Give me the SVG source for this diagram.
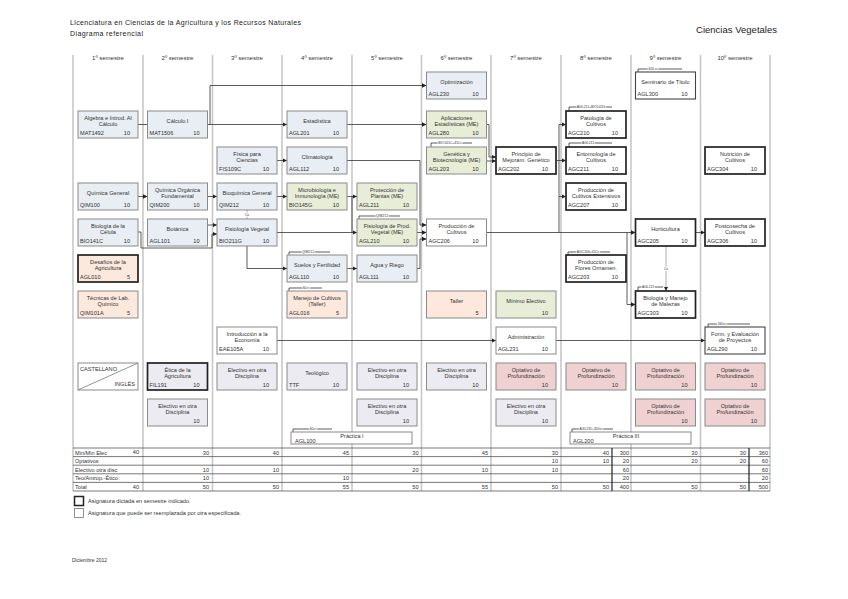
<svg xmlns="http://www.w3.org/2000/svg" width="848" height="599" viewBox="0 0 848 599">
<defs>
<marker id="a" viewBox="0 0 6 6" refX="6" refY="3" markerWidth="4.5" markerHeight="4.5" markerUnits="userSpaceOnUse" orient="auto"><path d="M0,0L6,3L0,6z" fill="#222"/></marker>
<style>
text{font-family:"Liberation Sans",Arial,sans-serif;fill:#333}
.col{stroke:#c8c8c8;stroke-width:1.6;fill:none}
.hd{font-size:6px;text-anchor:middle}
.node rect{fill:#e9edf4;stroke:#8a8a8a;stroke-width:1}
.node.g rect{fill:#e8edd8}
.node.p rect{fill:#fce8dc}
.node.l rect{fill:#ecebf1}
.node.o rect{fill:#f0d1d1}
.node.w rect{fill:#fff}
.node.k rect{stroke:#222;stroke-width:1.7}
.node.m rect{stroke:#444;stroke-width:1.1}
.t{font-size:5.6px;text-anchor:middle}
.c{font-size:5.6px}
.r{font-size:5.6px;text-anchor:end}
.cn path{fill:none;stroke:#333;stroke-width:0.8}
.cn path.x{marker-end:url(#a)}
.cn path.gr{stroke:#999}
.pq{font-size:3.4px;text-anchor:middle;paint-order:stroke;stroke:#fff;stroke-width:1.6px}
.tb line{stroke:#555;stroke-width:0.8}
.tv{font-size:5.6px;text-anchor:end}
.tl{font-size:5.6px}
.ti{font-size:7px;fill:#222}
</style>
</defs>
<rect width="848" height="599" fill="#fff"/>
<text class="ti" x="70" y="25" textLength="231">Licenciatura en Ciencias de la Agricultura y los Recursos Naturales</text>
<text class="ti" x="70" y="36" textLength="73">Diagrama referencial</text>
<text x="696" y="33" style="font-size:9.5px;fill:#222" textLength="81">Ciencias Vegetales</text>

<g id="columns">
<path class="col" d="M73,55V491M143,55V491M212.5,55V491M282,55V491M352,55V491M421.5,55V491M491,55V491M561,55V491M631,55V491M700.5,55V491M770,55V491"/>
<text class="hd" x="108" y="60">1º semestre</text>
<text class="hd" x="177.5" y="60">2º semestre</text>
<text class="hd" x="247" y="60">3º semestre</text>
<text class="hd" x="317" y="60">4º semestre</text>
<text class="hd" x="387" y="60">5º semestre</text>
<text class="hd" x="456.5" y="60">6º semestre</text>
<text class="hd" x="526" y="60">7º semestre</text>
<text class="hd" x="596" y="60">8º semestre</text>
<text class="hd" x="665.5" y="60">9º semestre</text>
<text class="hd" x="735" y="60">10º semestre</text>
</g>

<g class="cn" id="connectors">
<path d="M138,124.5H147.5"/>
<path class="x" d="M207.5,124.5H287"/>
<path class="x" d="M210,124.5V85.5H426.5"/>
<path class="x" d="M277,160.5H287"/>
<path class="x" d="M347,124.5H426.5"/>
<path class="x" d="M486.5,124.5H489V157H496"/>
<path class="x" d="M486.5,161H496"/>
<path class="x" d="M347,160.5H420V225H426.5"/>
<path class="x" d="M138,196.5H147.5"/>
<path class="x" d="M207.5,196.5H217"/>
<path class="x" d="M277,196.5H287"/>
<path class="gr" d="M247,210V219"/>
<path class="x" d="M207.5,225H217"/>
<path class="x" d="M138,232H141V248H212V234H217"/>
<path class="x" d="M247,246V268.5H287"/>
<path class="x" d="M277,232.5H357"/>
<path class="x" d="M347,196.5H357"/>
<path d="M352,232.5V196.5"/>
<path class="x" d="M417,232.5H426.5"/>
<path class="x" d="M347,268.5H357"/>
<path class="x" d="M417,268.5H420V239H426.5"/>
<path class="x" d="M486.5,232.5H635.5"/>
<path class="x" d="M559,232.5V124.5H566"/>
<path class="x" d="M556,160.5H566"/>
<path class="x" d="M559,196.5H566"/>
<path class="x" d="M627,232.5V304.5H635.5"/>
<path class="x" d="M696,232.5H705"/>
<path class="x gr" d="M666,246V291"/>
<path class="x" d="M277,340.5H496"/>
<path class="x" d="M556,340.5H705"/>
<text class="pq" x="247" y="216">Cs</text>
<text class="pq" x="666" y="270">Cs</text>
<path class="x" d="M682,69H638V77"/><text class="pq" x="653" y="70">400 cr</text>
<path class="x" d="M612,107H569V116"/><text class="pq" x="591" y="108">AGL211+BIO145G</text>
<path class="x" d="M612,143H569V152"/><text class="pq" x="588" y="144">AGL211</text>
<path class="x" d="M472,143H431V152"/><text class="pq" x="450" y="144">BIO141C+45Cr</text>
<path class="x" d="M400,216H359V224"/><text class="pq" x="382" y="217">QIM212</text>
<path class="x" d="M330,252H289V260"/><text class="pq" x="308" y="253">QIM212</text>
<path class="x" d="M322,288H289V296"/><text class="pq" x="306" y="289">60cr</text>
<path class="x" d="M610,252H568V260"/><text class="pq" x="588" y="253">AGC206+45Cr</text>
<path class="x" d="M663,287H638V296"/><text class="pq" x="648" y="288">AGL211</text>
<path class="x" d="M750,324H708V332"/><text class="pq" x="722" y="325">360cr</text>
<path class="x" d="M332,429H293V437"/><text class="pq" x="313" y="430">60cr</text>
<path class="x" d="M613,429H572V437"/><text class="pq" x="591" y="430">AGL231+350cr</text>
</g>

<!-- column 1 -->
<g id="n-mat1492" class="node"><rect x="78" y="111" width="60" height="27"/><text class="t" x="108" y="120">Algebra e Introd. Al</text><text class="t" x="108" y="126">Cálculo</text><text class="c" x="80" y="135">MAT1492</text><text class="r" x="130" y="135">10</text></g>
<g id="n-qim100" class="node"><rect x="78" y="183" width="60" height="27"/><text class="t" x="108" y="194.5">Química General</text><text class="c" x="80" y="207">QIM100</text><text class="r" x="130" y="207">10</text></g>
<g id="n-bio141c" class="node"><rect x="78" y="219" width="60" height="27"/><text class="t" x="108" y="228">Biología de la</text><text class="t" x="108" y="234">Célula</text><text class="c" x="80" y="243">BIO141C</text><text class="r" x="130" y="243">10</text></g>
<g id="n-agl010" class="node p k"><rect x="78" y="255" width="60" height="27"/><text class="t" x="108" y="264">Desafíos de la</text><text class="t" x="108" y="270">Agricultura</text><text class="c" x="80" y="279">AGL010</text><text class="r" x="130" y="279">5</text></g>
<g id="n-qim101a" class="node p"><rect x="78" y="291" width="60" height="27"/><text class="t" x="108" y="300">Técnicas de Lab.</text><text class="t" x="108" y="306">Químico</text><text class="c" x="80" y="315">QIM101A</text><text class="r" x="130" y="315">5</text></g>
<g id="n-idioma" class="node w"><rect x="78" y="363" width="60" height="27"/><path d="M78,390L138,363" stroke="#777" stroke-width="0.8"/><text class="c" x="80" y="371">CASTELLANO</text><text class="r" x="135" y="386">INGLÉS</text></g>

<!-- column 2 -->
<g id="n-mat1506" class="node"><rect x="147.5" y="111" width="60" height="27"/><text class="t" x="177.5" y="122.5">Cálculo I</text><text class="c" x="149.5" y="135">MAT1506</text><text class="r" x="199.5" y="135">10</text></g>
<g id="n-qim200" class="node"><rect x="147.5" y="183" width="60" height="27"/><text class="t" x="177.5" y="192">Química Orgánica</text><text class="t" x="177.5" y="198">Fundamental</text><text class="c" x="149.5" y="207">QIM200</text><text class="r" x="199.5" y="207">10</text></g>
<g id="n-agl101" class="node"><rect x="147.5" y="219" width="60" height="27"/><text class="t" x="177.5" y="230.5">Botánica</text><text class="c" x="149.5" y="243">AGL101</text><text class="r" x="199.5" y="243">10</text></g>
<g id="n-fil191" class="node l k"><rect x="147.5" y="363" width="60" height="27"/><text class="t" x="177.5" y="372">Ética de la</text><text class="t" x="177.5" y="378">Agricultura</text><text class="c" x="149.5" y="387">FIL191</text><text class="r" x="199.5" y="387">10</text></g>
<g id="n-elec2" class="node l"><rect x="147.5" y="399" width="60" height="27"/><text class="t" x="177.5" y="408">Electivo en otra</text><text class="t" x="177.5" y="414">Disciplina</text><text class="r" x="199.5" y="423">10</text></g>

<!-- column 3 -->
<g id="n-fis109c" class="node"><rect x="217" y="147" width="60" height="27"/><text class="t" x="247" y="156">Física para</text><text class="t" x="247" y="162">Ciencias</text><text class="c" x="219" y="171">FIS109C</text><text class="r" x="269" y="171">10</text></g>
<g id="n-qim212" class="node"><rect x="217" y="183" width="60" height="27"/><text class="t" x="247" y="194.5">Bioquímica General</text><text class="c" x="219" y="207">QIM212</text><text class="r" x="269" y="207">10</text></g>
<g id="n-bio211g" class="node"><rect x="217" y="219" width="60" height="27"/><text class="t" x="247" y="230.5">Fisiología Vegetal</text><text class="c" x="219" y="243">BIO211G</text><text class="r" x="269" y="243">10</text></g>
<g id="n-eae105a" class="node w"><rect x="217" y="327" width="60" height="27"/><text class="t" x="247" y="336">Introducción a la</text><text class="t" x="247" y="342">Economía</text><text class="c" x="219" y="351">EAE105A</text><text class="r" x="269" y="351">10</text></g>
<g id="n-elec3" class="node l"><rect x="217" y="363" width="60" height="27"/><text class="t" x="247" y="372">Electivo en otra</text><text class="t" x="247" y="378">Disciplina</text><text class="r" x="269" y="387">10</text></g>

<!-- column 4 -->
<g id="n-agl201" class="node"><rect x="287" y="111" width="60" height="27"/><text class="t" x="317" y="122.5">Estadística</text><text class="c" x="289" y="135">AGL201</text><text class="r" x="339" y="135">10</text></g>
<g id="n-agl112" class="node"><rect x="287" y="147" width="60" height="27"/><text class="t" x="317" y="158.5">Climatología</text><text class="c" x="289" y="171">AGL112</text><text class="r" x="339" y="171">10</text></g>
<g id="n-bio145g" class="node g"><rect x="287" y="183" width="60" height="27"/><text class="t" x="317" y="192">Microbiología e</text><text class="t" x="317" y="198">Inmunología (ME)</text><text class="c" x="289" y="207">BIO145G</text><text class="r" x="339" y="207">10</text></g>
<g id="n-agl110" class="node"><rect x="287" y="255" width="60" height="27"/><text class="t" x="317" y="266.5">Suelos y Fertilidad</text><text class="c" x="289" y="279">AGL110</text><text class="r" x="339" y="279">10</text></g>
<g id="n-agl016" class="node p"><rect x="287" y="291" width="60" height="27"/><text class="t" x="317" y="300">Manejo de Cultivos</text><text class="t" x="317" y="306">(Taller)</text><text class="c" x="289" y="315">AGL016</text><text class="r" x="339" y="315">5</text></g>
<g id="n-ttf" class="node l"><rect x="287" y="363" width="60" height="27"/><text class="t" x="317" y="374.5">Teológico</text><text class="c" x="289" y="387">TTF</text><text class="r" x="339" y="387">10</text></g>
<g id="n-agl100" class="node w"><rect x="291" y="432" width="121" height="12"/><text class="t" x="352" y="438">Práctica I</text><text class="c" x="295" y="442.5">AGL100</text></g>

<!-- column 5 -->
<g id="n-agl211" class="node g"><rect x="357" y="183" width="60" height="27"/><text class="t" x="387" y="192">Protección de</text><text class="t" x="387" y="198">Plantas (ME)</text><text class="c" x="359" y="207">AGL211</text><text class="r" x="409" y="207">10</text></g>
<g id="n-agl210" class="node g"><rect x="357" y="219" width="60" height="27"/><text class="t" x="387" y="228">Fisiología de Prod.</text><text class="t" x="387" y="234">Vegetal (ME)</text><text class="c" x="359" y="243">AGL210</text><text class="r" x="409" y="243">10</text></g>
<g id="n-agl111" class="node"><rect x="357" y="255" width="60" height="27"/><text class="t" x="387" y="266.5">Agua y Riego</text><text class="c" x="359" y="279">AGL111</text><text class="r" x="409" y="279">10</text></g>
<g id="n-elec5a" class="node l"><rect x="357" y="363" width="60" height="27"/><text class="t" x="387" y="372">Electivo en otra</text><text class="t" x="387" y="378">Disciplina</text><text class="r" x="409" y="387">10</text></g>
<g id="n-elec5b" class="node l"><rect x="357" y="399" width="60" height="27"/><text class="t" x="387" y="408">Electivo en otra</text><text class="t" x="387" y="414">Disciplina</text><text class="r" x="409" y="423">10</text></g>

<!-- column 6 -->
<g id="n-agl230" class="node"><rect x="426.5" y="72" width="60" height="27"/><text class="t" x="456.5" y="83.5">Optimización</text><text class="c" x="428.5" y="96">AGL230</text><text class="r" x="478.5" y="96">10</text></g>
<g id="n-agl280" class="node g"><rect x="426.5" y="111" width="60" height="27"/><text class="t" x="456.5" y="120">Aplicaciones</text><text class="t" x="456.5" y="126">Estadísticas (ME)</text><text class="c" x="428.5" y="135">AGL280</text><text class="r" x="478.5" y="135">10</text></g>
<g id="n-agl203" class="node g"><rect x="426.5" y="147" width="60" height="27"/><text class="t" x="456.5" y="156">Genética y</text><text class="t" x="456.5" y="162">Biotecnología (ME)</text><text class="c" x="428.5" y="171">AGL203</text><text class="r" x="478.5" y="171">10</text></g>
<g id="n-agc206" class="node w"><rect x="426.5" y="219" width="60" height="27"/><text class="t" x="456.5" y="228">Producción de</text><text class="t" x="456.5" y="234">Cultivos</text><text class="c" x="428.5" y="243">AGC206</text><text class="r" x="478.5" y="243">10</text></g>
<g id="n-taller" class="node p"><rect x="426.5" y="291" width="60" height="27"/><text class="t" x="456.5" y="302.5">Taller</text><text class="r" x="478.5" y="315">5</text></g>
<g id="n-elec6" class="node l"><rect x="426.5" y="363" width="60" height="27"/><text class="t" x="456.5" y="372">Electivo en otra</text><text class="t" x="456.5" y="378">Disciplina</text><text class="r" x="478.5" y="387">10</text></g>

<!-- column 7 -->
<g id="n-agc202" class="node w k"><rect x="496" y="147" width="60" height="27"/><text class="t" x="526" y="156">Principio de</text><text class="t" x="526" y="162">Mejoram. Genético</text><text class="c" x="498" y="171">AGC202</text><text class="r" x="548" y="171">10</text></g>
<g id="n-minelec" class="node g"><rect x="496" y="291" width="60" height="27"/><text class="t" x="526" y="302.5">Mínimo Electivo</text><text class="r" x="548" y="315">10</text></g>
<g id="n-agl231" class="node w"><rect x="496" y="327" width="60" height="27"/><text class="t" x="526" y="338.5">Administración</text><text class="c" x="498" y="351">AGL231</text><text class="r" x="548" y="351">10</text></g>
<g id="n-opt7" class="node o"><rect x="496" y="363" width="60" height="27"/><text class="t" x="526" y="372">Optativo de</text><text class="t" x="526" y="378">Profundización</text><text class="r" x="548" y="387">10</text></g>
<g id="n-elec7" class="node l"><rect x="496" y="399" width="60" height="27"/><text class="t" x="526" y="408">Electivo en otra</text><text class="t" x="526" y="414">Disciplina</text><text class="r" x="548" y="423">10</text></g>

<!-- column 8 -->
<g id="n-agc210" class="node w k"><rect x="566" y="111" width="60" height="27"/><text class="t" x="596" y="120">Patología de</text><text class="t" x="596" y="126">Cultivos</text><text class="c" x="568" y="135">AGC210</text><text class="r" x="618" y="135">10</text></g>
<g id="n-agc211" class="node w k"><rect x="566" y="147" width="60" height="27"/><text class="t" x="596" y="156">Entomología de</text><text class="t" x="596" y="162">Cultivos</text><text class="c" x="568" y="171">AGC211</text><text class="r" x="618" y="171">10</text></g>
<g id="n-agc207" class="node w k"><rect x="566" y="183" width="60" height="27"/><text class="t" x="596" y="192">Producción de</text><text class="t" x="596" y="198">Cultivos Extensivos</text><text class="c" x="568" y="207">AGC207</text><text class="r" x="618" y="207">10</text></g>
<g id="n-agc203" class="node w k"><rect x="566" y="255" width="60" height="27"/><text class="t" x="596" y="264">Producción de</text><text class="t" x="596" y="270">Flores Ornamen.</text><text class="c" x="568" y="279">AGC203</text><text class="r" x="618" y="279">10</text></g>
<g id="n-opt8" class="node o"><rect x="566" y="363" width="60" height="27"/><text class="t" x="596" y="372">Optativo de</text><text class="t" x="596" y="378">Profundización</text><text class="r" x="618" y="387">10</text></g>
<g id="n-agl200" class="node w"><rect x="570" y="432" width="121" height="12"/><text class="t" x="626" y="438">Práctica III</text><text class="c" x="573" y="442.5">AGL200</text></g>

<!-- column 9 -->
<g id="n-agl300" class="node w m"><rect x="635.5" y="72" width="60" height="27"/><text class="t" x="665.5" y="83.5">Seminario de Título</text><text class="c" x="637.5" y="96">AGL300</text><text class="r" x="687.5" y="96">10</text></g>
<g id="n-agc205" class="node w k"><rect x="635.5" y="219" width="60" height="27"/><text class="t" x="665.5" y="230.5">Horticultura</text><text class="c" x="637.5" y="243">AGC205</text><text class="r" x="687.5" y="243">10</text></g>
<g id="n-agc303" class="node w k"><rect x="635.5" y="291" width="60" height="27"/><text class="t" x="665.5" y="300">Biología y Manejo</text><text class="t" x="665.5" y="306">de Malezas</text><text class="c" x="637.5" y="315">AGC303</text><text class="r" x="687.5" y="315">10</text></g>
<g id="n-opt9a" class="node o"><rect x="635.5" y="363" width="60" height="27"/><text class="t" x="665.5" y="372">Optativo de</text><text class="t" x="665.5" y="378">Profundización</text><text class="r" x="687.5" y="387">10</text></g>
<g id="n-opt9b" class="node o"><rect x="635.5" y="399" width="60" height="27"/><text class="t" x="665.5" y="408">Optativo de</text><text class="t" x="665.5" y="414">Profundización</text><text class="r" x="687.5" y="423">10</text></g>

<!-- column 10 -->
<g id="n-agc304" class="node w k"><rect x="705" y="147" width="60" height="27"/><text class="t" x="735" y="156">Nutrición de</text><text class="t" x="735" y="162">Cultivos</text><text class="c" x="707" y="171">AGC304</text><text class="r" x="757" y="171">10</text></g>
<g id="n-agc306" class="node w k"><rect x="705" y="219" width="60" height="27"/><text class="t" x="735" y="228">Postcosecha de</text><text class="t" x="735" y="234">Cultivos</text><text class="c" x="707" y="243">AGC306</text><text class="r" x="757" y="243">10</text></g>
<g id="n-agl290" class="node w m"><rect x="705" y="327" width="60" height="27"/><text class="t" x="735" y="336">Form. y Evaluación</text><text class="t" x="735" y="342">de Proyectos</text><text class="c" x="707" y="351">AGL290</text><text class="r" x="757" y="351">10</text></g>
<g id="n-opt10a" class="node o"><rect x="705" y="363" width="60" height="27"/><text class="t" x="735" y="372">Optativo de</text><text class="t" x="735" y="378">Profundización</text><text class="r" x="757" y="387">10</text></g>
<g id="n-opt10b" class="node o"><rect x="705" y="399" width="60" height="27"/><text class="t" x="735" y="408">Optativo de</text><text class="t" x="735" y="414">Profundización</text><text class="r" x="757" y="423">10</text></g>

<!-- table -->
<g class="tb" id="credits-table">
<line x1="73" y1="448" x2="770" y2="448"/>
<line x1="73" y1="456.6" x2="770" y2="456.6"/>
<line x1="73" y1="465.2" x2="770" y2="465.2"/>
<line x1="73" y1="473.8" x2="770" y2="473.8"/>
<line x1="73" y1="482.4" x2="770" y2="482.4"/>
<line x1="73" y1="491" x2="770" y2="491"/>
<line x1="612" y1="448" x2="612" y2="491" style="stroke:#222;stroke-width:1.2"/>
<line x1="749" y1="448" x2="749" y2="491" style="stroke:#222;stroke-width:1.2"/>
<text class="tl" x="75" y="454.5">Min/Min Elec</text>
<text class="tl" x="75" y="463">Optativos</text>
<text class="tl" x="75" y="471.6">Electivo otra disc</text>
<text class="tl" x="75" y="480.2">Teo/Antrop.-Ético:</text>
<text class="tl" x="75" y="488.8">Total</text>
<text class="tv" x="139" y="453.5">40</text><text class="tv" x="209" y="454.5">30</text><text class="tv" x="279" y="454.5">40</text><text class="tv" x="349" y="454.5">45</text><text class="tv" x="418.5" y="454.5">30</text><text class="tv" x="488" y="454.5">45</text><text class="tv" x="558" y="454.5">30</text><text class="tv" x="609" y="454.5">40</text><text class="tv" x="629" y="454.5">300</text><text class="tv" x="697.5" y="454.5">30</text><text class="tv" x="746" y="454.5">30</text><text class="tv" x="768" y="454.5">360</text>
<text class="tv" x="558" y="463">10</text><text class="tv" x="609" y="463">10</text><text class="tv" x="629" y="463">20</text><text class="tv" x="697.5" y="463">20</text><text class="tv" x="746" y="463">20</text><text class="tv" x="768" y="463">60</text>
<text class="tv" x="209" y="471.6">10</text><text class="tv" x="279" y="471.6">10</text><text class="tv" x="418.5" y="471.6">20</text><text class="tv" x="488" y="471.6">10</text><text class="tv" x="558" y="471.6">10</text><text class="tv" x="629" y="471.6">60</text><text class="tv" x="768" y="471.6">60</text>
<text class="tv" x="209" y="480.2">10</text><text class="tv" x="349" y="480.2">10</text><text class="tv" x="629" y="480.2">20</text><text class="tv" x="768" y="480.2">20</text>
<text class="tv" x="139" y="488.8">40</text><text class="tv" x="209" y="488.8">50</text><text class="tv" x="279" y="488.8">50</text><text class="tv" x="349" y="488.8">55</text><text class="tv" x="418.5" y="488.8">50</text><text class="tv" x="488" y="488.8">55</text><text class="tv" x="558" y="488.8">50</text><text class="tv" x="609" y="488.8">50</text><text class="tv" x="629" y="488.8">400</text><text class="tv" x="697.5" y="488.8">50</text><text class="tv" x="746" y="488.8">50</text><text class="tv" x="768" y="488.8">500</text>
</g>

<g id="legend">
<rect x="74.5" y="496.5" width="9" height="9" fill="#fff" stroke="#222" stroke-width="1.5"/>
<text class="tl" x="88" y="503">Asignatura dictada en semestre indicado.</text>
<rect x="74.5" y="508.5" width="9" height="9" fill="#fff" stroke="#777" stroke-width="0.8"/>
<text class="tl" x="88" y="515">Asignatura que puede ser reemplazada por otra especificada.</text>
</g>
<text x="72" y="562" style="font-size:5px">Diciembre 2012</text>
</svg>
